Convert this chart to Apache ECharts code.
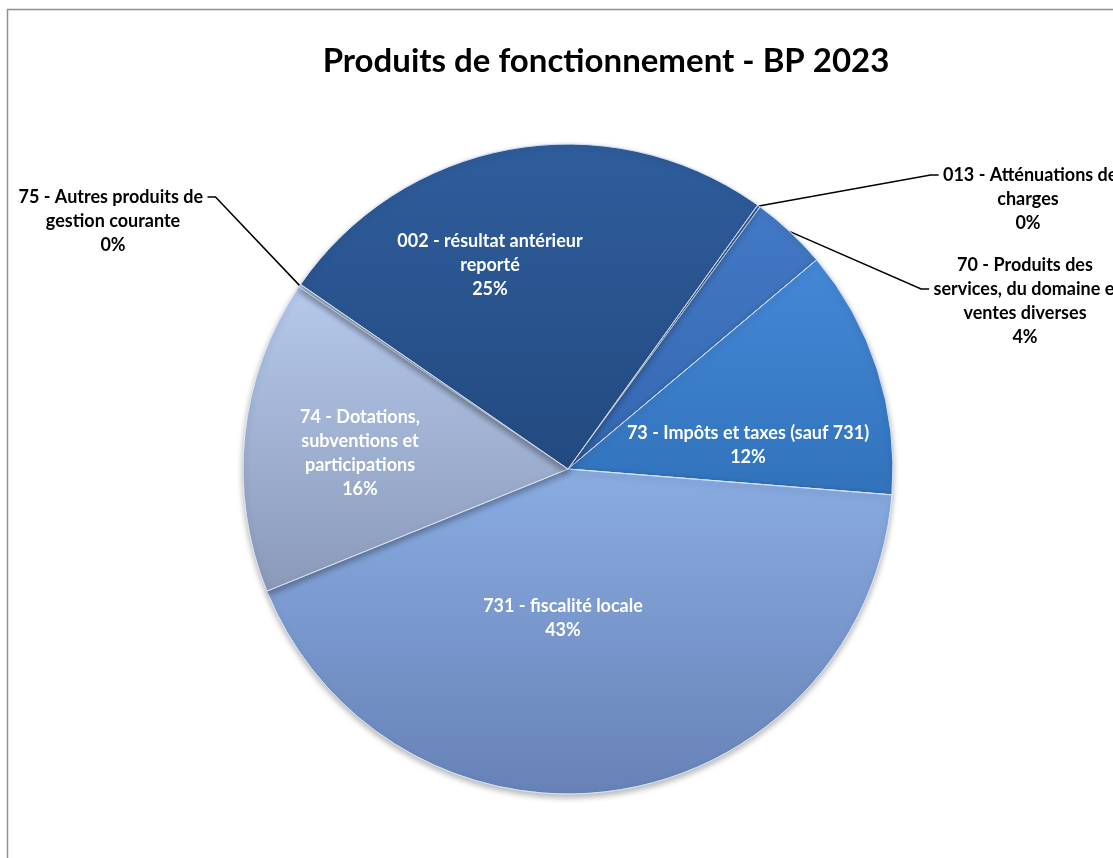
<!DOCTYPE html>
<html lang="fr">
<head>
    <meta charset="UTF-8">
    <title>Produits de fonctionnement - BP 2023</title>
    <script src="https://cdn.jsdelivr.net/npm/echarts@6/dist/echarts.min.js"></script>
    <style>
        html, body { margin: 0; padding: 0; background: #fff; }
    </style>
</head>
<body>
<div id="main" style="width: 1113px;height:858px;"></div>

<script type="text/javascript">
    // chapitres budgétaires, dans l'ordre du tracé (sens horaire)
    var categories = [
        '013 - Atténuations de charges',
        '70 - Produits des services, du domaine et ventes diverses',
        '73 - Impôts et taxes (sauf 731)',
        '731 - fiscalité locale',
        '74 - Dotations, subventions et participations',
        '75 - Autres produits de gestion courante',
        '002 - résultat antérieur reporté'
    ];
    // libellés avec les retours à la ligne du graphique d'origine
    // (espace insécable = petit jeu entre le trait de rappel et le texte)
    var labelTexts = [
        '\u00a0013 - Atténuations de\ncharges',
        '70 - Produits des\n\u00a0services, du domaine et\nventes diverses',
        '73 - Impôts et taxes (sauf 731)',
        '731 - fiscalité locale',
        '74 - Dotations,\nsubventions et\nparticipations',
        '75 - Autres produits de\u00a0\ngestion courante',
        '002 - résultat antérieur\nreporté'
    ];
    // part de chaque chapitre (en %)
    var shares = [0.15, 3.8, 12.4, 42.6, 15.6, 0.15, 25.3];

    // dégradés haut -> bas de chaque part
    var colorsTop = ['#3d74c0', '#4279c5', '#4488d6', '#8aace2', '#b6c9ec', '#b6c9ec', '#2f5d9c'];
    var colorsBottom = ['#3064ab', '#3567b0', '#3172bb', '#6782b6', '#8a99b8', '#8a99b8', '#234a80'];

    // étiquettes à l'extérieur (index) ; lignes vides ajoutées en tête pour que
    // le trait de rappel arrive sur la bonne ligne du libellé
    var outsideLabels = [0, 1, 5];
    var blankLines = {0: 2, 1: 1, 5: 2};
    // position de chaque étiquette (pour les externes : ligne visée par le trait)
    var labelPos = [
        [1028, 175],
        [1025, 289],
        [748, 445],
        [563, 618],
        [360, 453],
        [113, 197],
        [490, 265]
    ];

    var myChart = echarts.init(document.getElementById('main'));

    var pieData = categories.map(function (name, i) {
        var outside = outsideLabels.indexOf(i) >= 0;
        return {
            name: name,
            value: shares[i],
            itemStyle: {
                color: new echarts.graphic.LinearGradient(0, 0, 0, 1, [
                    {offset: 0, color: colorsTop[i]},
                    {offset: 1, color: colorsBottom[i]}
                ])
            },
            label: outside ? {position: 'outside', color: '#000'} : {position: 'inside', color: '#fff'},
            labelLine: {show: outside}
        };
    });

    myChart.setOption({
        textStyle: {fontFamily: 'Lato'},
        title: {
            text: 'Produits de fonctionnement - BP 2023',
            left: 601,
            textAlign: 'center',
            top: 40,
            textStyle: {fontFamily: 'Lato', fontWeight: 'bold', fontSize: 33, color: '#000'}
        },
        graphic: [{
            type: 'rect',
            shape: {x: 7.5, y: 9.5, width: 1300, height: 1000},
            style: {fill: 'none', stroke: '#8f8f8f', lineWidth: 1.5},
            silent: true
        }],
        series: [{
            type: 'pie',
            center: [568, 469],
            radius: 325,
            startAngle: 54.3,
            percentPrecision: 0,
            avoidLabelOverlap: false,
            itemStyle: {
                borderColor: 'rgba(220,232,250,0.7)',
                borderWidth: 1,
                shadowBlur: 6,
                shadowOffsetY: 3,
                shadowColor: 'rgba(0,0,0,0.3)'
            },
            label: {
                fontFamily: 'Lato',
                fontWeight: 'bold',
                fontSize: 18,
                lineHeight: 24,
                formatter: function (p) {
                    var pad = new Array((blankLines[p.dataIndex] || 0) + 1).join('\n');
                    return pad + labelTexts[p.dataIndex] + '\n' + p.percent + '%';
                }
            },
            labelLine: {
                length: 10,
                length2: 8,
                lineStyle: {color: '#000', width: 1.5}
            },
            labelLayout: function (p) {
                var pos = labelPos[p.dataIndex];
                return {x: pos[0], y: pos[1], align: 'center', verticalAlign: 'middle'};
            },
            data: pieData
        }]
    });
</script>
</body>
</html>
